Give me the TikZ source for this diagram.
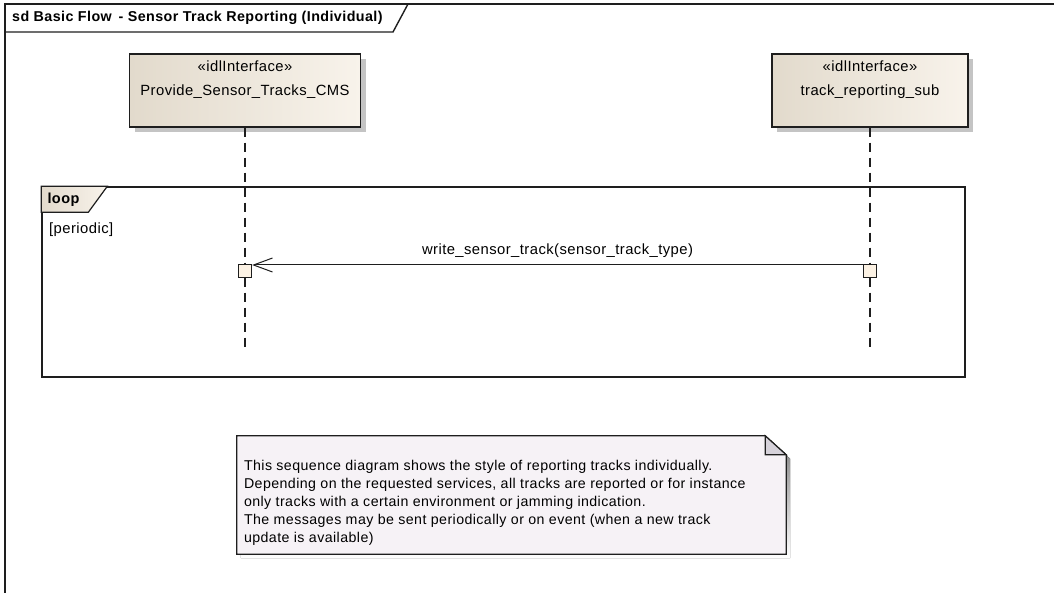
\documentclass[tikz,border=0pt]{standalone}
\usepackage{fontspec}
\setmainfont[LetterSpace=3]{Liberation Sans}
\usetikzlibrary{arrows.meta,positioning,shadows}

\definecolor{boxleft}{RGB}{226,218,204}
\definecolor{boxright}{RGB}{248,243,235}
\definecolor{actfill}{RGB}{252,242,228}
\definecolor{notefill}{RGB}{246,242,246}
\definecolor{foldfill}{RGB}{214,210,218}
\definecolor{shade}{RGB}{196,196,196}
\definecolor{ink}{RGB}{30,30,30}

\begin{document}
\begin{tikzpicture}[x=1pt, y=-1pt,
  txt/.style={font=\fontsize{14.8}{18}\selectfont, inner sep=0pt, text height=10pt, text depth=3pt},
  frameline/.style={draw=ink, line width=1.4pt},
  lifebox/.style={draw=ink, line width=1.3pt, minimum height=73pt, left color=boxleft, right color=boxright,
    drop shadow={shadow xshift=5pt, shadow yshift=-5pt, fill=shade, opacity=1}},
  lifeline/.style={draw=ink, line width=1.3pt, dash pattern=on 9pt off 6pt},
  act/.style={draw=ink, line width=1.2pt, fill=actfill, minimum size=13pt, inner sep=0pt},
  msg/.style={draw=ink, line width=1pt, -{Straight Barb[length=19pt, width=14pt, line width=1pt]}},
  loopframe/.style={draw=ink, line width=1.4pt, minimum width=923pt, minimum height=190pt},
  tab/.style={draw=ink, line width=1.2pt, left color=boxleft, right color=boxright},
  notebox/.style={minimum width=549pt, minimum height=118pt, inner sep=0pt}
]
\useasboundingbox (0,0) rectangle (1054,593);

% diagram frame
\draw[frameline] (1054,4) -- (5,4) -- (5,593);
\draw[frameline] (5,32) -- (393,32) -- (408,4);
\node[txt, font=\fontsize{14.3}{15}\selectfont\bfseries, anchor=west] (title) at (12,18) {sd Basic Flow\,\ - Sensor Track Reporting (Individual)};

% lifelines
\coordinate (lifeend) at (0,349);
\node[lifebox, minimum width=231pt] (provide) at (245,90.5) {};
\node[lifebox, minimum width=196pt] (trackrep) at (870,90.5) {};
\node[txt, below=7.5pt of provide.north] (provster) {«idlInterface»};
\node[txt, below=11pt of provster] (provname) {Provide\_Sensor\_Tracks\_CMS};
\node[txt, below=7.5pt of trackrep.north] (trackster) {«idlInterface»};
\node[txt, below=11pt of trackster] (trackname) {track\_reporting\_sub};
\draw[lifeline] (provide.south) -- (provide |- lifeend);
\draw[lifeline] (trackrep.south) -- (trackrep |- lifeend);

% loop fragment
\node[loopframe] (loop) at (503.5,282) {};
\draw[tab] (loop.north west) -- ++(66,0) -- ++(-19,26) -- ++(-47,0) -- cycle;
\node[txt, font=\fontsize{14.5}{15}\selectfont\bfseries, anchor=west] (looplbl) at ([xshift=6pt,yshift=-14pt]loop.north west) {loop};
\node[txt, anchor=west] (guard) at (49,230) {[periodic]};

% message
\node[act] (actL) at (245,271) {};
\node[act] (actR) at (870,271) {};
\draw[msg] ([yshift=6pt]actR.west) -- ([yshift=6pt]actL.east)
  node[txt, midway, above=6.5pt] (msglbl) {write\_sensor\_track(sensor\_track\_type)};

% note
\node[notebox] (note) at (511.5,495) {};
\fill[shade] ([shift={(4pt,-4pt)}]note.north west) -- ([shift={(-17pt,-4pt)}]note.north east)
  -- ([shift={(4pt,-23pt)}]note.north east) -- ([shift={(4pt,-4pt)}]note.south east)
  -- ([shift={(4pt,-4pt)}]note.south west) -- cycle;
\draw[draw=ink, line width=1.2pt, fill=notefill] (note.north west) -- ([xshift=-21pt]note.north east)
  -- ([yshift=-19pt]note.north east) -- (note.south east) -- (note.south west) -- cycle;
\draw[draw=ink, line width=1.2pt, fill=foldfill] ([xshift=-21pt]note.north east)
  -- ([xshift=-21pt,yshift=-19pt]note.north east) -- ([yshift=-19pt]note.north east) -- cycle;
\node[font=\fontsize{14.2}{18}\selectfont, inner sep=0pt, align=left, anchor=north west] (notetxt)
  at ([xshift=7pt,yshift=-24.5pt]note.north west)
  {This sequence diagram shows the style of reporting tracks individually.\\
   Depending on the requested services, all tracks are reported or for instance\\
   only tracks with a certain environment or jamming indication.\\
   The messages may be sent periodically or on event (when a new track\\
   update is available)};
\end{tikzpicture}
\end{document}
